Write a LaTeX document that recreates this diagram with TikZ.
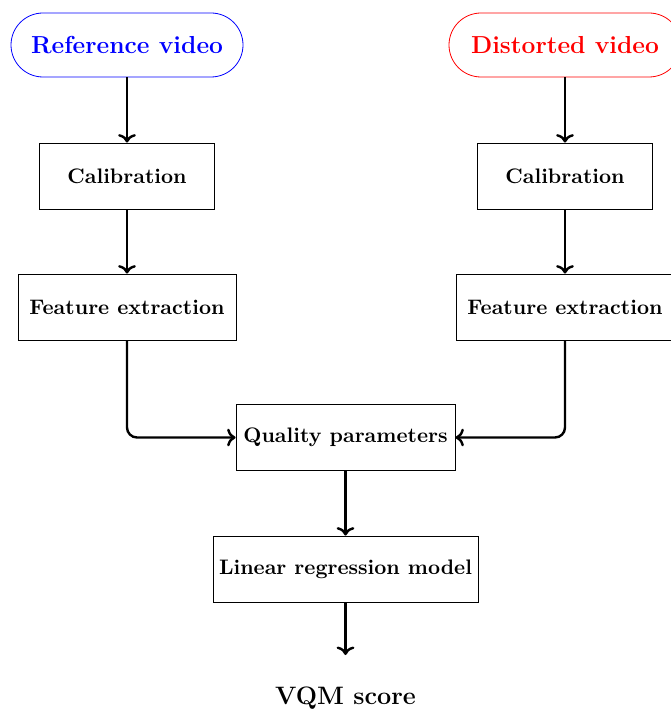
\documentclass[tikz,border=0pt]{standalone}
\usepackage{amsmath}
\usepackage{tikz}
\usetikzlibrary{arrows.meta}
\usetikzlibrary{positioning}

\tikzset{
	source/.style={draw, rounded corners=16pt, minimum width=116pt, minimum height=32pt, font=\fontsize{12.3}{14}\selectfont\bfseries},
	block/.style={draw, rectangle, thin, minimum height=33pt, inner xsep=3pt, font=\fontsize{10.5}{12.6}\selectfont\bfseries},
	flow/.style={->, line width=1.2pt, rounded corners=5pt},
}

\begin{document}
\begin{tikzpicture}[x=0.5pt, y=-0.5pt]
	\useasboundingbox (0,0) rectangle (670,711);

	\node[source, draw=blue, text=blue] (refvid) at (127,45) {Reference video};
	\node[source, draw=red, text=red] (disvid) at (565,45) {Distorted video};

	\node[block, minimum width=87.5pt] (refcal) at (127,176) {Calibration};
	\node[block, minimum width=87.5pt] (discal) at (565,176) {Calibration};

	\node[block, minimum width=109pt] (reffeat) at (127,307) {Feature extraction};
	\node[block, minimum width=109pt] (disfeat) at (565,307) {Feature extraction};

	\node[block, minimum width=109.5pt] (quality) at (345.5,437.5) {Quality parameters};
	\node[block, minimum width=132.5pt] (regress) at (345.5,569) {Linear regression model};

	\coordinate (scoreend) at (345.5,655);
	\node[font=\fontsize{12.6}{15}\selectfont\bfseries] (vqm) at (345.5,698) {VQM score};

	\draw[flow] (refvid) -- (refcal);
	\draw[flow] (refcal) -- (reffeat);
	\draw[flow] (disvid) -- (discal);
	\draw[flow] (discal) -- (disfeat);
	\draw[flow] (reffeat.south) |- (quality.west);
	\draw[flow] (disfeat.south) |- (quality.east);
	\draw[flow] (quality) -- (regress);
	\draw[flow] (regress) -- (scoreend);
\end{tikzpicture}
\end{document}
